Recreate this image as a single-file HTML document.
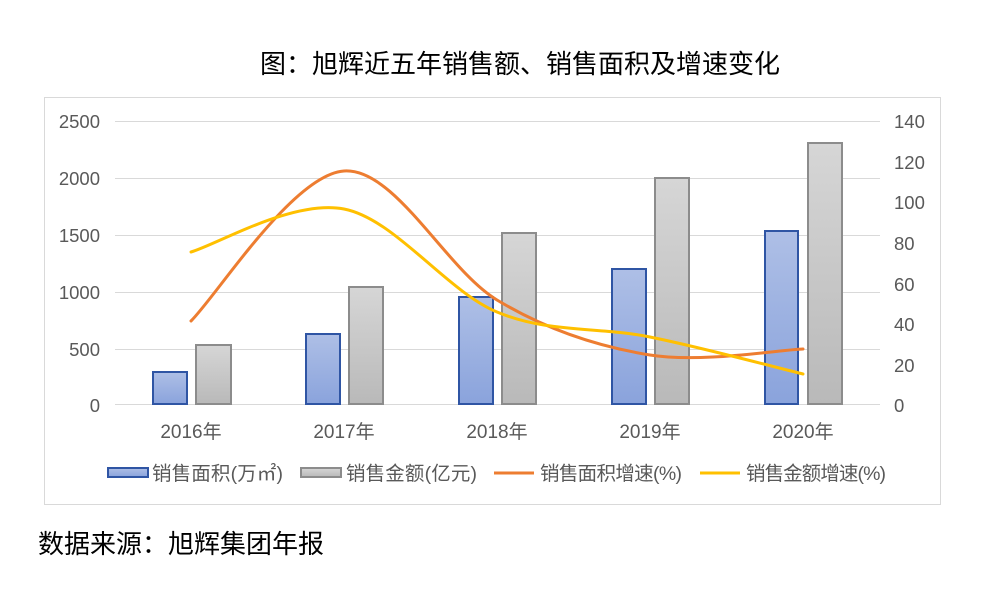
<!DOCTYPE html>
<html><head><meta charset="utf-8"><style>
body{margin:0;background:#fff;}
svg text{font-family:"Liberation Sans","Noto Sans CJK SC",sans-serif;}
</style></head><body>
<svg width="982" height="601" viewBox="0 0 982 601" xmlns="http://www.w3.org/2000/svg">
<defs>
<linearGradient id="gb" x1="0" y1="0" x2="0" y2="1"><stop offset="0" stop-color="#aebfe6"/><stop offset="1" stop-color="#8aa3dc"/></linearGradient>
<linearGradient id="gg" x1="0" y1="0" x2="0" y2="1"><stop offset="0" stop-color="#d6d6d6"/><stop offset="1" stop-color="#b9b9b9"/></linearGradient>
</defs>
<rect width="982" height="601" fill="#fff"/>
<text x="520" y="73" font-size="26" text-anchor="middle" fill="#000">图：旭辉近五年销售额、销售面积及增速变化</text>
<rect x="44.5" y="97.5" width="896" height="407" fill="#fff" stroke="#d9d9d9"/>
<g stroke="#d9d9d9" stroke-width="1">
<line x1="115" y1="121.5" x2="880" y2="121.5"/><line x1="115" y1="178.5" x2="880" y2="178.5"/><line x1="115" y1="235.5" x2="880" y2="235.5"/><line x1="115" y1="292.5" x2="880" y2="292.5"/><line x1="115" y1="349.5" x2="880" y2="349.5"/><line x1="115" y1="404.5" x2="880" y2="404.5"/>
</g>
<g font-size="18.5" fill="#595959" text-anchor="end">
<text x="100" y="128">2500</text><text x="100" y="185">2000</text><text x="100" y="242">1500</text><text x="100" y="299">1000</text><text x="100" y="356">500</text><text x="100" y="412">0</text>
</g>
<g font-size="18.5" fill="#595959" text-anchor="start">
<text x="894" y="128">140</text><text x="894" y="169">120</text><text x="894" y="209">100</text><text x="894" y="250">80</text><text x="894" y="291">60</text><text x="894" y="331">40</text><text x="894" y="372">20</text><text x="894" y="412">0</text>
</g>
<g fill="url(#gb)" stroke="#2f55a4" stroke-width="2">
<rect x="153" y="372" width="34" height="32"/><rect x="306" y="334" width="34" height="70"/><rect x="459" y="297" width="34" height="107"/><rect x="612" y="269" width="34" height="135"/><rect x="765" y="231" width="33" height="173"/>
</g>
<g fill="url(#gg)" stroke="#8c8c8c" stroke-width="2">
<rect x="196" y="345" width="35" height="59"/><rect x="349" y="287" width="34" height="117"/><rect x="502" y="233" width="34" height="171"/><rect x="655" y="178" width="34" height="226"/><rect x="808" y="143" width="34" height="261"/>
</g>
<path d="M191,321 C216.5,296 293,174.5 344,171 C395,167.5 446,269.3 497,300 C548,330.7 599,346.8 650,355 C701,363.2 777.5,350 803,349" fill="none" stroke="#ed7d31" stroke-width="3" stroke-linecap="round"/>
<path d="M191,252 C216.5,244.8 293,199 344,209 C395,219 446,290.7 497,312 C548,333.3 599,326.7 650,337 C701,347.3 777.5,367.8 803,374" fill="none" stroke="#ffc000" stroke-width="3" stroke-linecap="round"/>
<g font-size="19" fill="#595959" text-anchor="middle">
<text x="191" y="438">2016年</text><text x="344" y="438">2017年</text><text x="497" y="438">2018年</text><text x="650" y="438">2019年</text><text x="803" y="438">2020年</text>
</g>
<rect x="108" y="468" width="40" height="9" fill="url(#gb)" stroke="#2f55a4" stroke-width="2"/>
<text x="152" y="480" font-size="19.5" fill="#595959" textLength="131">销售面积(万㎡)</text>
<rect x="301" y="468" width="40" height="9" fill="url(#gg)" stroke="#8c8c8c" stroke-width="2"/>
<text x="346" y="480" font-size="19.5" fill="#595959" textLength="131">销售金额(亿元)</text>
<line x1="494" y1="473" x2="534" y2="473" stroke="#ed7d31" stroke-width="3"/>
<text x="540" y="480" font-size="19.5" fill="#595959" textLength="142">销售面积增速(%)</text>
<line x1="700" y1="473" x2="740" y2="473" stroke="#ffc000" stroke-width="3"/>
<text x="746" y="480" font-size="19.5" fill="#595959" textLength="140">销售金额增速(%)</text>
<text x="38" y="553" font-size="26" fill="#000">数据来源：旭辉集团年报</text>
</svg>
</body></html>
